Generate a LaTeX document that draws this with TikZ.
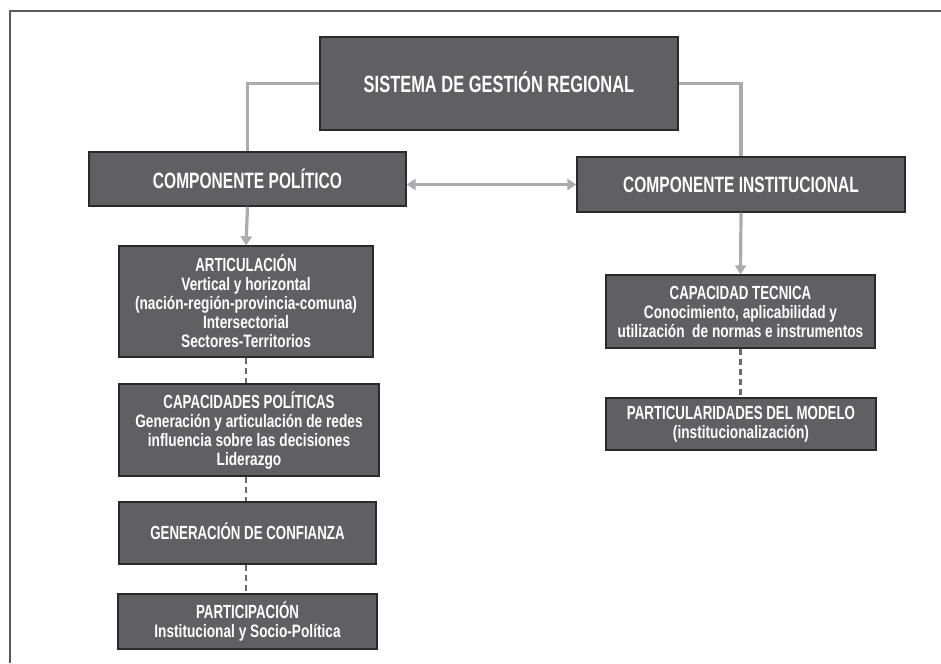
\documentclass[tikz,border=0pt]{standalone}
\usepackage{fontspec}
\setmainfont{Liberation Sans}
\newfontfamily\hdrfnt{Liberation Sans}[FakeStretch=0.70]
\newfontfamily\subfnt{Liberation Sans}[FakeStretch=0.76]
\usetikzlibrary{arrows.meta}
\definecolor{boxfill}{HTML}{606062}
\definecolor{boxline}{HTML}{2A2A2A}
\definecolor{connc}{HTML}{ABABAD}
\definecolor{dashc}{HTML}{6A6A6A}
\newcommand\myhd[2]{{\hdrfnt\bfseries\fontsize{#1}{19}\selectfont #2}}
\tikzset{
  gbox/.style={draw=boxline, line width=1.3pt, fill=boxfill, text=white, align=center, inner sep=0pt,
    font=\subfnt\bfseries\fontsize{18}{19}\selectfont},
  conn/.style={draw=connc, line width=3.2pt},
  arr/.style={conn, -{Triangle[length=9pt,width=11pt]}},
  darr/.style={conn, {Triangle[length=9pt,width=11pt]}-{Triangle[length=9pt,width=11pt]}},
  dline/.style={draw=dashc, line width=2.3pt, dash pattern=on 6pt off 4pt}
}
\begin{document}
\begin{tikzpicture}[x=1pt,y=-1pt]
\useasboundingbox (0,0) rectangle (941,663);
\fill[white] (0,0) rectangle (941,663);
\draw[draw=black!65, line width=1.3pt] (10,663) -- (10,11) -- (941,11);

\node[gbox, minimum width=358pt, minimum height=93pt] (sis) at (499,83.5) {\raisebox{3pt}{\myhd{23.5}{SISTEMA DE GESTIÓN REGIONAL}}};
\node[gbox, minimum width=317pt, minimum height=54pt] (cp) at (247.5,179) {\myhd{22.2}{COMPONENTE POLÍTICO}};
\node[gbox, minimum width=328pt, minimum height=55pt] (ci) at (741,184.5) {\myhd{22.2}{COMPONENTE INSTITUCIONAL}};

\node[gbox, minimum width=254pt, minimum height=111pt] (art) at (246,301.5)
  {\myhd{19}{ARTICULACIÓN}\\Vertical y horizontal\\(nación-región-provincia-comuna)\\Intersectorial\\Sectores-Territorios};
\node[gbox, minimum width=260pt, minimum height=92pt] (cap) at (249,430)
  {\myhd{19}{CAPACIDADES POLÍTICAS}\\Generación y articulación de redes\\influencia sobre las decisiones\\Liderazgo};
\node[gbox, minimum width=257pt, minimum height=62pt] (gen) at (247.5,533)
  {\raisebox{4pt}{\myhd{19}{GENERACIÓN DE CONFIANZA}}};
\node[gbox, minimum width=259pt, minimum height=55pt] (par) at (247.5,621.5)
  {\myhd{19}{PARTICIPACIÓN}\\Institucional y Socio-Política};

\node[gbox, minimum width=269pt, minimum height=73pt] (ct) at (740.5,311.5)
  {\myhd{19}{CAPACIDAD TECNICA}\\Conocimiento, aplicabilidad y\\utilización\ \ de normas e instrumentos};
\node[gbox, minimum width=270pt, minimum height=52pt] (pm) at (741,424)
  {\myhd{19}{PARTICULARIDADES DEL MODELO}\\(institucionalización)};

\draw[conn] (sis.west) -| (cp.north);
\draw[conn] (sis.east) -| (ci.north);
\draw[darr] (cp.east |- ci.west) -- (ci.west);
\draw[arr] (cp.south) -- (art.north);
\draw[arr] (ci.south) -- (ct.north);
\draw[dline] (art.south) -- (art.south |- cap.north);
\draw[dline] (art.south |- cap.south) -- (art.south |- gen.north);
\draw[dline] (art.south |- gen.south) -- (art.south |- par.north);
\draw[dline] (ct.south) -- (ct.south |- pm.north);
\end{tikzpicture}
\end{document}
